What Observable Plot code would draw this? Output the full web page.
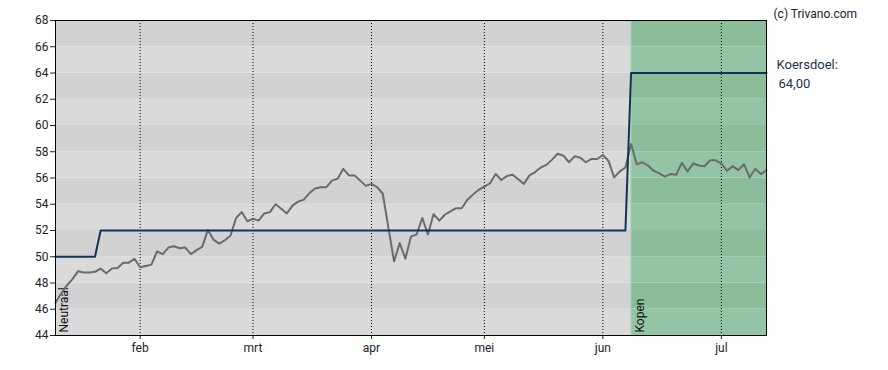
<!DOCTYPE html>
<html>
<head>
<meta charset="utf-8">
<script src="https://cdn.jsdelivr.net/npm/d3@7"></script>
<script src="https://cdn.jsdelivr.net/npm/@observablehq/plot@0.6"></script>
<style>
  html, body { margin: 0; padding: 0; background: #fff; }
  #chart svg { display: block; }
</style>
</head>
<body>
<div id="chart"></div>
<script>
// Daily closing prices (trading-day index 0 = first day shown)
const prices = [
  46.5, 47.2, 47.8, 48.3, 48.9, 48.8, 48.8, 48.85, 49.1, 48.75,
  49.1, 49.15, 49.55, 49.55, 49.85, 49.2, 49.3, 49.4, 50.4, 50.2,
  50.7, 50.8, 50.65, 50.7, 50.2, 50.5, 50.75, 52.05, 51.3, 51.0,
  51.25, 51.6, 52.95, 53.4, 52.7, 52.9, 52.75, 53.3, 53.4, 54.0,
  53.65, 53.3, 53.9, 54.2, 54.35, 54.85, 55.2, 55.3, 55.3, 55.8,
  55.95, 56.7, 56.2, 56.2, 55.8, 55.4, 55.55, 55.3, 54.8, 52.2,
  49.65, 51.05, 49.85, 51.55, 51.7, 52.95, 51.7, 53.25, 52.75, 53.2,
  53.45, 53.7, 53.7, 54.35, 54.75, 55.1, 55.35, 55.6, 56.3, 55.85,
  56.15, 56.25, 55.9, 55.55, 56.2, 56.45, 56.8, 57.0, 57.4, 57.85,
  57.7, 57.2, 57.65, 57.55, 57.2, 57.45, 57.45, 57.75, 57.3, 56.05,
  56.5, 56.8, 58.6, 57.05, 57.2, 56.95, 56.55, 56.35, 56.1, 56.3,
  56.25, 57.15, 56.5, 57.1, 56.95, 56.9, 57.35, 57.35, 57.1, 56.55,
  56.9, 56.6, 57.05, 56.05, 56.7, 56.3, 56.6
];

// Price target (koersdoel) changes: trading-day index and value
const targetDays = [0, 7, 8, 101, 102, 126];
const targetValues = [50, 50, 52, 52, 64, 64];

// Advice periods
const ratingStart = [0, 102];
const ratingLabels = ["Neutraal", "Kopen"];

// Axis ticks
const monthTicks = [15, 35, 56, 76, 97, 118];
const monthLabels = ["feb", "mrt", "apr", "mei", "jun", "jul"];
const yTicks = [44, 46, 48, 50, 52, 54, 56, 58, 60, 62, 64, 66, 68];

const targetLabel = "Koersdoel:";
const targetText = "64,00";
const credit = "(c) Trivano.com";

// ---- derived tables ----
const lastIdx = prices.length - 1;
const priceData = prices.map((v, i) => ({i, v}));
const targetData = targetDays.map((d, k) => ({i: d, v: targetValues[k]}));
const palettes = {
  "Neutraal": ["#dadada", "#d2d2d2"],
  "Kopen": ["#93c4a3", "#8bbd9b"]
};
const bands = [];
ratingStart.forEach((s, r) => {
  const e = r + 1 < ratingStart.length ? ratingStart[r + 1] : lastIdx;
  for (let k = 0; k < yTicks.length - 1; k++) {
    bands.push({x1: s, x2: e, y1: yTicks[k], y2: yTicks[k + 1], fill: palettes[ratingLabels[r]][k % 2]});
  }
});
const ratings = ratingStart.map((s, r) => ({i: s, label: ratingLabels[r]}));

const chart = Plot.plot({
  width: 888,
  height: 370,
  marginLeft: 55,
  marginRight: 122,
  marginTop: 20,
  marginBottom: 35,
  style: {fontFamily: "Roboto, sans-serif", fontSize: "12px", color: "#222", background: "#fff", overflow: "visible"},
  x: {domain: [0, lastIdx], ticks: monthTicks, tickFormat: d => monthLabels[monthTicks.indexOf(d)], tickSize: 4, tickPadding: 4, label: null},
  y: {domain: [44, 68], ticks: yTicks, tickSize: 5, tickPadding: 2, label: null},
  marks: [
    Plot.rect(bands, {x1: "x1", x2: "x2", y1: "y1", y2: "y2", fill: d => d.fill}),
    Plot.ruleX(ratingStart.slice(1), {stroke: "#a3d2b2", strokeWidth: 1}),
    Plot.ruleX(monthTicks, {stroke: "#000", strokeDasharray: "1,2", strokeWidth: 1}),
    Plot.text(ratings, {x: "i", y: () => 44, text: "label", rotate: -90, textAnchor: "start", dx: 9, dy: -3, fontSize: 12, fill: "#111"}),
    Plot.line(priceData, {x: "i", y: "v", stroke: "#6b6b6b", strokeWidth: 2}),
    Plot.line(targetData, {x: "i", y: "v", stroke: "#0c3556", strokeWidth: 2}),
    Plot.frame({stroke: "#000", strokeWidth: 1}),
    Plot.text([targetValues[targetValues.length - 1]], {x: () => lastIdx, y: d => d, text: () => targetLabel, textAnchor: "start", dx: 10, dy: -8, fontSize: 13, fill: "#1a3350"}),
    Plot.text([targetValues[targetValues.length - 1]], {x: () => lastIdx, y: d => d, text: () => targetText, textAnchor: "start", dx: 12, dy: 11, fontSize: 13, fill: "#1a3350"}),
    Plot.text([credit], {frameAnchor: "top-right", text: d => d, textAnchor: "start", dx: 7, dy: -11, fontSize: 12, fill: "#222"})
  ]
});
document.getElementById("chart").appendChild(chart);
</script>
</body>
</html>
